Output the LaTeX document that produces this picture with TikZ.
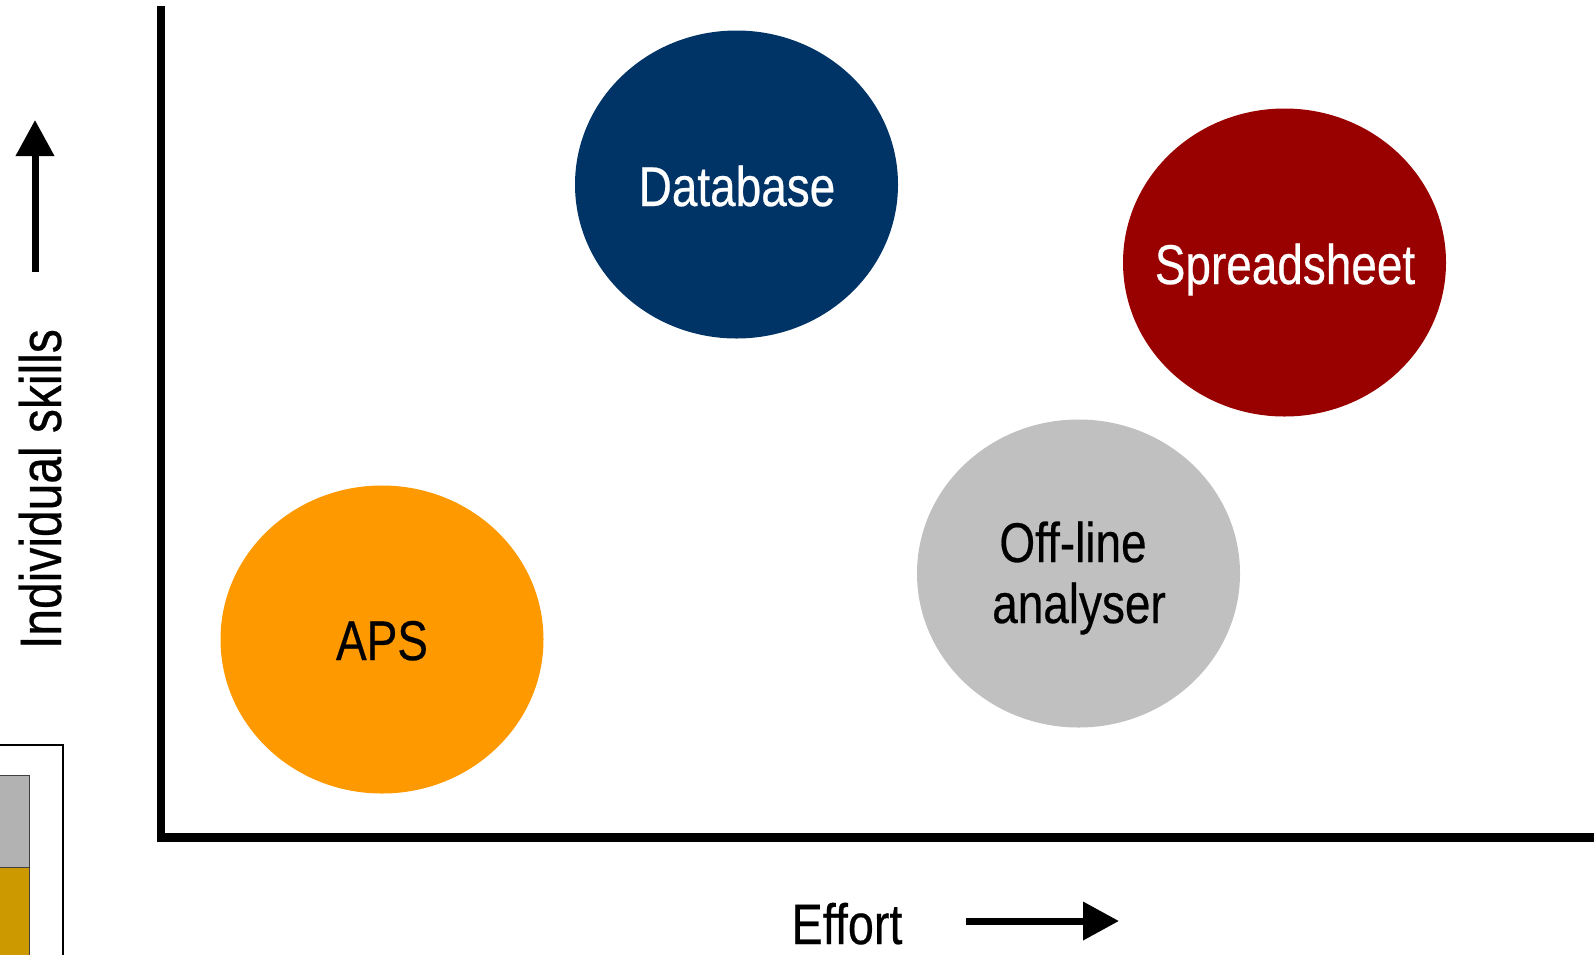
\documentclass[tikz,border=0pt]{standalone}
\usepackage{fontspec}
\newfontfamily\narrow[FakeStretch=0.82,FakeBold=0.4]{Liberation Sans}
\usetikzlibrary{shapes.geometric,arrows.meta}
\definecolor{dbblue}{RGB}{0,51,102}
\definecolor{ssred}{RGB}{153,0,0}
\definecolor{olgray}{RGB}{192,192,192}
\definecolor{apsorange}{RGB}{255,153,0}
\definecolor{boxgray}{RGB}{178,178,178}
\definecolor{boxgold}{RGB}{204,153,0}
\tikzset{
  bubble/.style={ellipse, minimum width=323pt, minimum height=308pt, inner sep=0pt},
  bubtext/.style={font=\narrow\fontsize{56}{61}\selectfont, inner sep=0pt, anchor=base},
  axislabel/.style={font=\narrow\fontsize{57}{63}\selectfont, inner sep=0pt},
  axisline/.style={line width=8.5pt, line join=miter},
  dirarrow/.style={line width=7pt, -{Triangle[length=36pt,width=37pt]}}
}
\begin{document}
\begin{tikzpicture}[x=1pt,y=-1pt]
\useasboundingbox (0,0) rectangle (1594,954);
% bottom-left box
\draw[line width=2pt] (-5,745) -- (63,745) -- (63,960);
\fill[boxgray] (-5,775) rectangle (29,867);
\fill[boxgold] (-5,867) rectangle (29,960);
\draw[line width=1pt, black!75] (-5,775) -- (29,775) -- (29,960);
\draw[line width=1pt, black!75] (-5,867) -- (29,867);
% axes
\coordinate (ytop) at (161,6);
\coordinate (origin) at (161,837.5);
\coordinate (xend) at (1594,837.5);
\draw[axisline] (ytop) -- (origin) -- (xend);
% bubbles
\node[bubble, fill=dbblue] (db) at (736.5,184.5) {};
\node[bubble, fill=ssred] (ss) at (1284.5,262.5) {};
\node[bubble, fill=olgray] (ol) at (1078.5,573.5) {};
\node[bubble, fill=apsorange] (aps) at (382,639.5) {};
\node[bubtext, text=white] (dbt) at (737,206) {Database};
\node[bubtext, text=white] (sst) at (1285,284) {Spreadsheet};
\node[bubtext, text=black] (olt1) at (1073,562) {Off-line};
\node[bubtext, text=black] (olt2) at (1079,623) {analyser};
\node[bubtext, text=black] (apst) at (382,660) {APS};
% axis labels
\node[axislabel, anchor=base] (effort) at (847,944) {Effort};
\node[axislabel, anchor=base, rotate=90, font=\narrow\fontsize{58.5}{63}\selectfont] (skills) at (61,489) {Individual skills};
% direction arrows
\coordinate (xa1) at (966,921);
\coordinate (xa2) at (1119,921);
\draw[dirarrow] (xa1) -- (xa2);
\coordinate (ya1) at (35,272);
\coordinate (ya2) at (35,120);
\draw[dirarrow] (ya1) -- (ya2);
\end{tikzpicture}
\end{document}
